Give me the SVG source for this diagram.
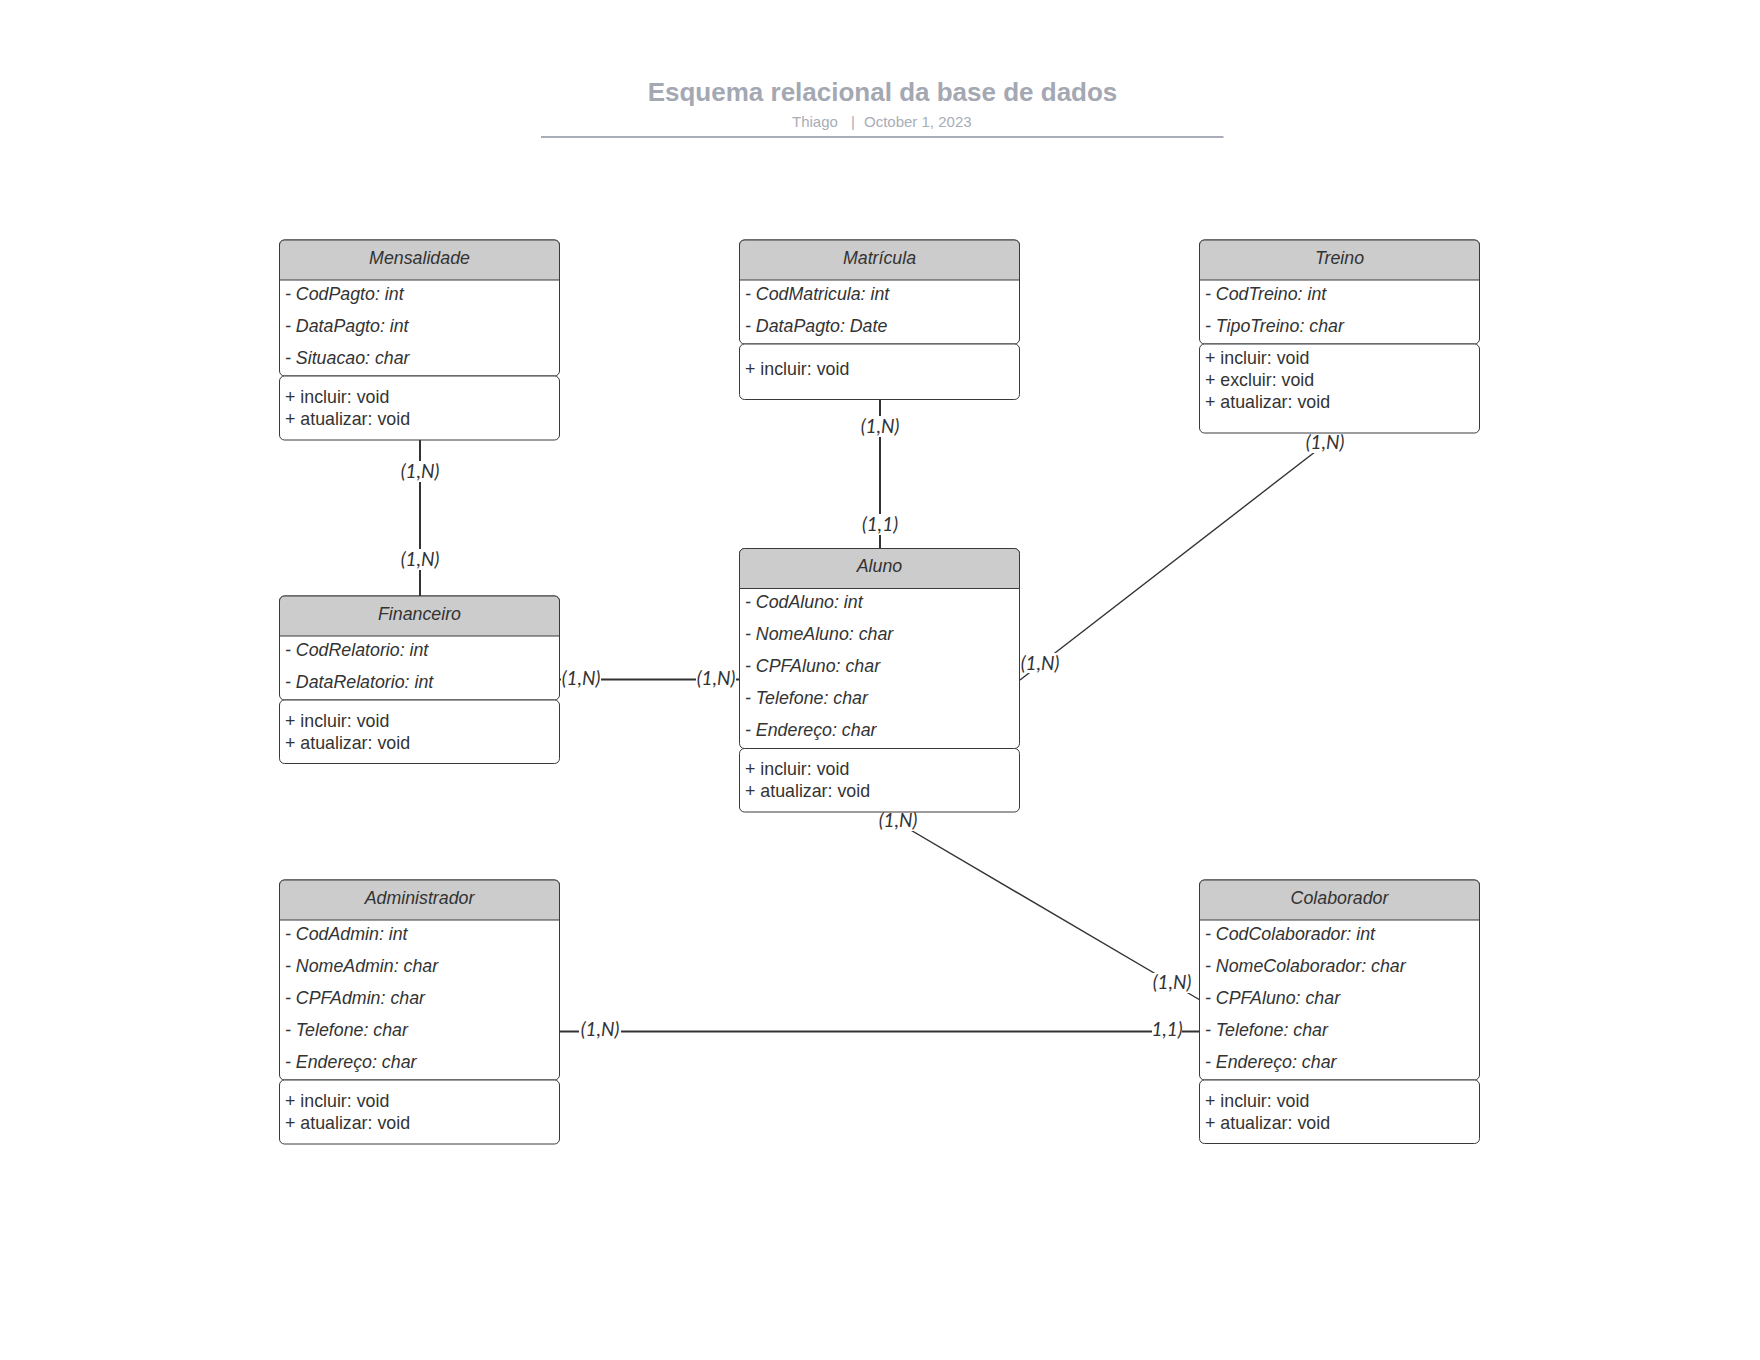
<svg xmlns="http://www.w3.org/2000/svg" width="1760" height="1360" viewBox="0 0 1760 1360">
  <style>
    .bg { fill: #ffffff; }
    .sec { fill: #ffffff; stroke: #3a3a3a; stroke-width: 1; }
    .hdr { fill: #cccccc; stroke: #3a3a3a; stroke-width: 1; }
    .name { font-family: "Liberation Sans", Arial, sans-serif; font-style: italic; font-size: 17.8px; fill: #333333; text-anchor: middle; }
    .attr { font-family: "Liberation Sans", Arial, sans-serif; font-style: italic; font-size: 17.8px; fill: #333333; }
    .meth { font-family: "Liberation Sans", Arial, sans-serif; font-size: 17.8px; fill: #333333; }
    .edge { fill: none; stroke: #333333; stroke-width: 2; }
    .edge-d { fill: none; stroke: #333333; stroke-width: 1.4; }
    .lblbg { fill: #ffffff; }
    .lbl { font-family: Lato, "DejaVu Sans", sans-serif; font-style: italic; font-size: 19px; fill: #333333; text-anchor: middle; }
    .title { font-family: "Liberation Sans", Arial, sans-serif; font-weight: bold; font-size: 26px; fill: #a3a8b3; text-anchor: middle; }
    .sub { font-family: "Liberation Sans", Arial, sans-serif; font-size: 15px; fill: #a8adb7; }
  </style>

  <rect class="bg" x="0" y="0" width="1760" height="1360"/>

  <!-- heading -->
  <g id="heading">
    <text class="title" x="882.5" y="101">Esquema relacional da base de dados</text>
    <text class="sub" x="792" y="127">Thiago</text>
    <text class="sub" x="851" y="127">|</text>
    <text class="sub" x="864" y="127">October 1, 2023</text>
    <line x1="541" y1="137" x2="1223.5" y2="137" stroke="#a8adb8" stroke-width="2"/>
  </g>

  <!-- connectors -->
  <g id="connectors">
    <line class="edge" x1="420" y1="440" x2="420" y2="596"/>
    <line class="edge" x1="880" y1="399.5" x2="880" y2="548.5"/>
    <line class="edge-d" x1="1339.5" y1="433" x2="1020" y2="680"/>
    <line class="edge" x1="560" y1="679.5" x2="740" y2="679.5"/>
    <line class="edge-d" x1="880" y1="812" x2="1200" y2="1000"/>
    <line class="edge" x1="560" y1="1031.5" x2="1200" y2="1031.5"/>

    <rect class="lblbg" x="398" y="461" width="44" height="21"/>
    <text class="lbl" x="420" y="477.5">(1,N)</text>
    <rect class="lblbg" x="398" y="549" width="44" height="21"/>
    <text class="lbl" x="420" y="565.5">(1,N)</text>

    <rect class="lblbg" x="858" y="416" width="44" height="21"/>
    <text class="lbl" x="880" y="433">(1,N)</text>
    <rect class="lblbg" x="858" y="514" width="44" height="21"/>
    <text class="lbl" x="880" y="530.5">(1,1)</text>

    <rect class="lblbg" x="1303" y="432" width="44" height="21"/>
    <text class="lbl" x="1325" y="448.5">(1,N)</text>
    <rect class="lblbg" x="1019" y="653" width="42" height="20"/>
    <text class="lbl" x="1040" y="669.5">(1,N)</text>

    <rect class="lblbg" x="561" y="668" width="40" height="21"/>
    <text class="lbl" x="581" y="684.5">(1,N)</text>
    <rect class="lblbg" x="696" y="668" width="40" height="21"/>
    <text class="lbl" x="716" y="684.5">(1,N)</text>

    <rect class="lblbg" x="876" y="811" width="44" height="20"/>
    <text class="lbl" x="898" y="827">(1,N)</text>
    <rect class="lblbg" x="1150" y="973" width="44" height="20"/>
    <text class="lbl" x="1172" y="989">(1,N)</text>

    <rect class="lblbg" x="579" y="1020" width="42" height="21"/>
    <text class="lbl" x="600" y="1036">(1,N)</text>
    <rect class="lblbg" x="1152" y="1020" width="30" height="21"/>
    <text class="lbl" x="1167" y="1036">1,1)</text>
  </g>

  <!-- Mensalidade -->
  <g id="mensalidade">
    <rect class="sec" x="279.5" y="240" width="280" height="136" rx="5"/>
    <path class="hdr" d="M279.5,280 V245 a5,5 0 0 1 5,-5 H554.5 a5,5 0 0 1 5,5 V280 Z"/>
    <text class="name" x="419.5" y="264">Mensalidade</text>
    <text class="attr" x="285" y="299.5">- CodPagto: int</text>
    <text class="attr" x="285" y="331.5">- DataPagto: int</text>
    <text class="attr" x="285" y="363.5">- Situacao: char</text>
    <rect class="sec" x="279.5" y="376" width="280" height="64" rx="5"/>
    <text class="meth" x="285" y="403">+ incluir: void</text>
    <text class="meth" x="285" y="424.5">+ atualizar: void</text>
  </g>

  <!-- Matrícula -->
  <g id="matricula">
    <rect class="sec" x="739.5" y="240" width="280" height="104" rx="5"/>
    <path class="hdr" d="M739.5,280 V245 a5,5 0 0 1 5,-5 H1014.5 a5,5 0 0 1 5,5 V280 Z"/>
    <text class="name" x="879.5" y="264">Matrícula</text>
    <text class="attr" x="745" y="299.5">- CodMatricula: int</text>
    <text class="attr" x="745" y="331.5">- DataPagto: Date</text>
    <rect class="sec" x="739.5" y="344" width="280" height="55.5" rx="5"/>
    <text class="meth" x="745" y="375">+ incluir: void</text>
  </g>

  <!-- Treino -->
  <g id="treino">
    <rect class="sec" x="1199.5" y="240" width="280" height="104" rx="5"/>
    <path class="hdr" d="M1199.5,280 V245 a5,5 0 0 1 5,-5 H1474.5 a5,5 0 0 1 5,5 V280 Z"/>
    <text class="name" x="1339.5" y="264">Treino</text>
    <text class="attr" x="1205" y="299.5">- CodTreino: int</text>
    <text class="attr" x="1205" y="331.5">- TipoTreino: char</text>
    <rect class="sec" x="1199.5" y="344" width="280" height="89" rx="5"/>
    <text class="meth" x="1205" y="364">+ incluir: void</text>
    <text class="meth" x="1205" y="386">+ excluir: void</text>
    <text class="meth" x="1205" y="408">+ atualizar: void</text>
  </g>

  <!-- Financeiro -->
  <g id="financeiro">
    <rect class="sec" x="279.5" y="596" width="280" height="104" rx="5"/>
    <path class="hdr" d="M279.5,636 V601 a5,5 0 0 1 5,-5 H554.5 a5,5 0 0 1 5,5 V636 Z"/>
    <text class="name" x="419.5" y="620">Financeiro</text>
    <text class="attr" x="285" y="655.5">- CodRelatorio: int</text>
    <text class="attr" x="285" y="687.5">- DataRelatorio: int</text>
    <rect class="sec" x="279.5" y="700" width="280" height="63.5" rx="5"/>
    <text class="meth" x="285" y="727">+ incluir: void</text>
    <text class="meth" x="285" y="748.5">+ atualizar: void</text>
  </g>

  <!-- Aluno -->
  <g id="aluno">
    <rect class="sec" x="739.5" y="548.5" width="280" height="200" rx="5"/>
    <path class="hdr" d="M739.5,588.5 V553.5 a5,5 0 0 1 5,-5 H1014.5 a5,5 0 0 1 5,5 V588.5 Z"/>
    <text class="name" x="879.5" y="572">Aluno</text>
    <text class="attr" x="745" y="608">- CodAluno: int</text>
    <text class="attr" x="745" y="640">- NomeAluno: char</text>
    <text class="attr" x="745" y="672">- CPFAluno: char</text>
    <text class="attr" x="745" y="704">- Telefone: char</text>
    <text class="attr" x="745" y="736">- Endereço: char</text>
    <rect class="sec" x="739.5" y="748.5" width="280" height="63.5" rx="5"/>
    <text class="meth" x="745" y="775">+ incluir: void</text>
    <text class="meth" x="745" y="796.5">+ atualizar: void</text>
  </g>

  <!-- Administrador -->
  <g id="administrador">
    <rect class="sec" x="279.5" y="880" width="280" height="200" rx="5"/>
    <path class="hdr" d="M279.5,920 V885 a5,5 0 0 1 5,-5 H554.5 a5,5 0 0 1 5,5 V920 Z"/>
    <text class="name" x="419.5" y="904">Administrador</text>
    <text class="attr" x="285" y="939.5">- CodAdmin: int</text>
    <text class="attr" x="285" y="971.5">- NomeAdmin: char</text>
    <text class="attr" x="285" y="1003.5">- CPFAdmin: char</text>
    <text class="attr" x="285" y="1035.5">- Telefone: char</text>
    <text class="attr" x="285" y="1067.5">- Endereço: char</text>
    <rect class="sec" x="279.5" y="1080" width="280" height="64" rx="5"/>
    <text class="meth" x="285" y="1107">+ incluir: void</text>
    <text class="meth" x="285" y="1128.5">+ atualizar: void</text>
  </g>

  <!-- Colaborador -->
  <g id="colaborador">
    <rect class="sec" x="1199.5" y="880" width="280" height="200" rx="5"/>
    <path class="hdr" d="M1199.5,920 V885 a5,5 0 0 1 5,-5 H1474.5 a5,5 0 0 1 5,5 V920 Z"/>
    <text class="name" x="1339.5" y="904">Colaborador</text>
    <text class="attr" x="1205" y="939.5">- CodColaborador: int</text>
    <text class="attr" x="1205" y="971.5">- NomeColaborador: char</text>
    <text class="attr" x="1205" y="1003.5">- CPFAluno: char</text>
    <text class="attr" x="1205" y="1035.5">- Telefone: char</text>
    <text class="attr" x="1205" y="1067.5">- Endereço: char</text>
    <rect class="sec" x="1199.5" y="1080" width="280" height="63.5" rx="5"/>
    <text class="meth" x="1205" y="1107">+ incluir: void</text>
    <text class="meth" x="1205" y="1128.5">+ atualizar: void</text>
  </g>
</svg>
